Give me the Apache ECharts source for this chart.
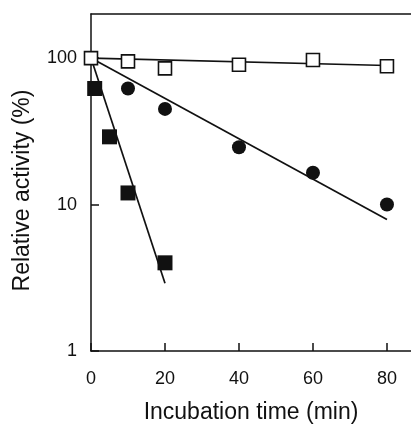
<!DOCTYPE html>
<html>
<head>
<meta charset="utf-8">
<script src="https://cdn.jsdelivr.net/npm/echarts@6/dist/echarts.min.js"></script>
<style>
  html, body { margin: 0; padding: 0; background: #fff; }
  #chart { width: 411px; height: 426px; }
</style>
</head>
<body>
<div id="chart"></div>
<script>
// incubation times (min) and relative activity (%)
const openTime = [0, 10, 20, 40, 60, 80];
const openVal = [100, 95, 85, 90, 97, 88];
const circleTime = [10, 20, 40, 60, 80];
const circleVal = [62, 45, 24.6, 16.5, 10];
const filledTime = [1, 5, 10, 20];
const filledVal = [62, 29, 12, 4];

// fitted lines (end points)
const openFit = [[0, 100], [80, 89]];
const circleFit = [[0, 100], [80, 7.9]];
const filledFit = [[0, 100], [20, 2.9]];

const xTicks = [0, 20, 40, 60, 80];
const yTicks = [1, 10, 100];

const zip = (xs, ys) => xs.map((x, i) => [x, ys[i]]);
const font = '"Liberation Sans", Arial, sans-serif';

const chart = echarts.init(document.getElementById('chart'));

const fitLine = (data) => ({
  type: 'line',
  data: data,
  symbol: 'none',
  lineStyle: { color: '#111', width: 1.7 },
  z: 2,
  silent: true,
});

chart.setOption({
  animation: false,
  grid: {
    left: 91, top: 14, width: 320, height: 337,
    containLabel: false, outerBoundsMode: 'none',
  },
  xAxis: [
    {
      type: 'value',
      min: 0,
      max: 86.5,
      interval: 20,
      name: 'Incubation time (min)',
      nameLocation: 'middle',
      nameGap: 50,
      nameTextStyle: { fontFamily: font, fontSize: 23, color: '#111' },
      axisLine: { show: true, lineStyle: { color: '#111', width: 1.5 } },
      axisTick: { show: true, inside: true, length: 8, lineStyle: { color: '#111', width: 1.5 } },
      axisLabel: {
        fontFamily: font, fontSize: 18, color: '#111', margin: 19,
        showMaxLabel: false,
        formatter: (v) => (xTicks.includes(v) ? String(v) : ''),
      },
      splitLine: { show: false },
    },
    {
      type: 'value',
      position: 'top',
      min: 0,
      max: 86.5,
      axisLine: { show: true, lineStyle: { color: '#111', width: 1.5 } },
      axisTick: { show: false },
      axisLabel: { show: false },
      splitLine: { show: false },
    },
  ],
  yAxis: {
    type: 'log',
    logBase: 10,
    min: 1,
    max: 200,
    name: 'Relative activity (%)',
    nameLocation: 'middle',
    nameGap: 57,
    nameTextStyle: { fontFamily: font, fontSize: 23, color: '#111', padding: [0, 16, 0, 0] },
    axisLine: { show: true, lineStyle: { color: '#111', width: 1.5 } },
    axisTick: { show: true, inside: true, length: 8, lineStyle: { color: '#111', width: 1.5 } },
    axisLabel: {
      fontFamily: font, fontSize: 18, color: '#111', margin: 14,
      showMaxLabel: false,
      formatter: (v) => (yTicks.includes(Math.round(v)) ? String(Math.round(v)) : ''),
    },
    splitLine: { show: false },
  },
  series: [
    fitLine(openFit),
    fitLine(circleFit),
    fitLine(filledFit),
    {
      type: 'scatter',
      data: zip(filledTime, filledVal),
      symbol: 'rect',
      symbolSize: 15,
      itemStyle: { color: '#111', opacity: 1 },
      z: 3,
    },
    {
      type: 'scatter',
      data: zip(circleTime, circleVal),
      symbol: 'circle',
      symbolSize: 14,
      itemStyle: { color: '#111', opacity: 1 },
      z: 3,
    },
    {
      type: 'scatter',
      data: zip(openTime, openVal),
      symbol: 'rect',
      symbolSize: 13,
      itemStyle: { color: '#fff', borderColor: '#111', borderWidth: 1.6, opacity: 1 },
      z: 4,
    },
  ],
});
</script>
</body>
</html>
